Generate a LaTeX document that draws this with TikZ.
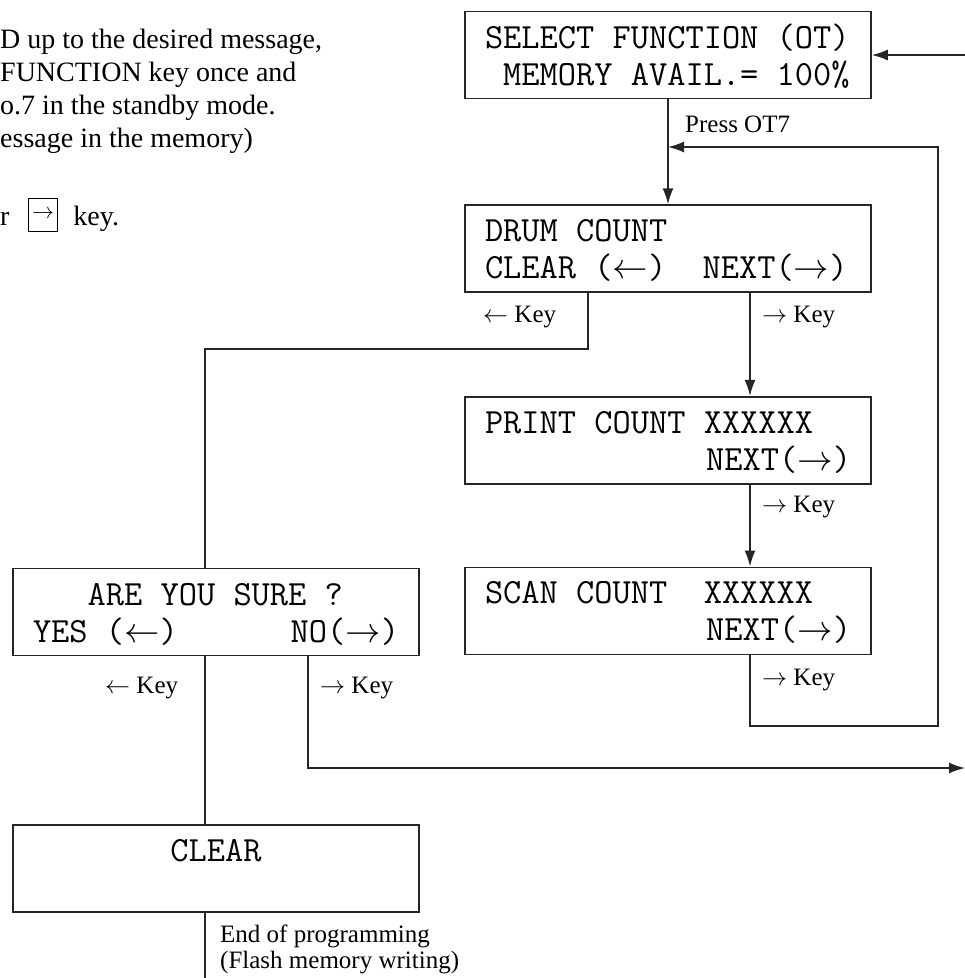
\documentclass[tikz,border=0pt]{standalone}
\usepackage{fix-cm}
\usepackage{fontspec}
\setmainfont{Liberation Serif}
\usepackage{tikz}
\usetikzlibrary{arrows.meta,positioning}

\begin{document}
\begin{tikzpicture}[x=1pt,y=-1pt,
  box/.style={draw,line width=1.6pt,color=black!85,text=black,
              minimum width=406pt,minimum height=87pt,inner sep=0pt,
              text width=366pt,align=flush left,text height=30pt,text depth=44pt,
              font=\ttfamily\fontsize{35.4}{37}\selectfont},
  lbl/.style={inner sep=0pt,anchor=base west,font=\fontsize{25}{26}\selectfont},
  link/.style={line width=1.6pt,color=black!85},
  arrow/.style={link,-{Latex[length=16pt,width=11pt]}},
  node distance=105pt
]
\useasboundingbox (0,0) rectangle (965,978);

\node[lbl,text width=340pt,align=flush left,font=\fontsize{28}{33}\selectfont] (intro) at (0,48)
  {D up to the desired message,\\FUNCTION key once and\\o.7 in the standby mode.\\essage in the memory)};
\node[lbl,font=\fontsize{28}{33}\selectfont] (introkey) at (0,225)
  {r\hspace{18.5pt}{\setlength{\fboxrule}{1.2pt}\setlength{\fboxsep}{3pt}\fbox{\rule[-3pt]{0pt}{26pt}\raisebox{7pt}{\fontsize{22}{22}\selectfont$\rightarrow$}}}\hspace{15pt}key.};

\node[box] (sel) at (668,55) {SELECT FUNCTION (OT)\\\hphantom{X}MEMORY AVAIL.= 100\%};
\node[box,below=of sel] (drum) {DRUM COUNT\\CLEAR ($\leftarrow$)\ \ NEXT($\rightarrow$)};
\node[box,below=103pt of drum] (print) {PRINT COUNT XXXXXX\\\mbox{}\hfill NEXT($\rightarrow$)};
\node[box,below=82pt of print] (scan) {SCAN COUNT\ \ XXXXXX\\\mbox{}\hfill NEXT($\rightarrow$)};
\node[box] (sure) at (216,612) {\hphantom{XXX}ARE YOU SURE ?\\YES ($\leftarrow$)\hfill NO($\rightarrow$)\hspace{8pt}};
\node[box,align=flush center,below=168pt of sure] (clr) {CLEAR};

\node[lbl] (ot7) at (685,132) {Press OT7};
\node[lbl] (drumleft) at (483,322) {$\leftarrow$ Key};
\node[lbl] (drumright) at (762,322) {$\rightarrow$ Key};
\node[lbl] (printright) at (762,512) {$\rightarrow$ Key};
\node[lbl] (scanright) at (762,685) {$\rightarrow$ Key};
\node[lbl] (sureleft) at (105,693) {$\leftarrow$ Key};
\node[lbl] (sureright) at (320,693) {$\rightarrow$ Key};
\node[lbl,text width=320pt,align=flush left] (endnote) at (220,942)
  {End of programming\\(Flash memory writing)};

\coordinate (feed) at (965,55);
\coordinate (nextcol) at (750,0);
\coordinate (clearcol) at (588,0);
\coordinate (nocol) at (308,0);
\coordinate (loopbot) at (938,726);
\coordinate (looptop) at (938,147);
\coordinate (yesturn) at (205,349);
\coordinate (noend) at (965,768);
\coordinate (endpt) at (205,978);

\draw[arrow] (feed) -- (sel);
\draw[arrow] (sel) -- (drum);
\draw[arrow] (drum.south -| nextcol) -- (print.north -| nextcol);
\draw[arrow] (print.south -| nextcol) -- (scan.north -| nextcol);
\draw[arrow] (scan.south -| nextcol) |- (loopbot) -- (looptop) -- (sel.south |- looptop);
\draw[link] (drum.south -| clearcol) |- (yesturn) -- (sure.north -| yesturn);
\draw[arrow] (sure.south -| nocol) |- (noend);
\draw[link] (sure.south -| yesturn) -- (clr.north -| yesturn);
\draw[link] (clr.south -| yesturn) -- (endpt);
\end{tikzpicture}
\end{document}
